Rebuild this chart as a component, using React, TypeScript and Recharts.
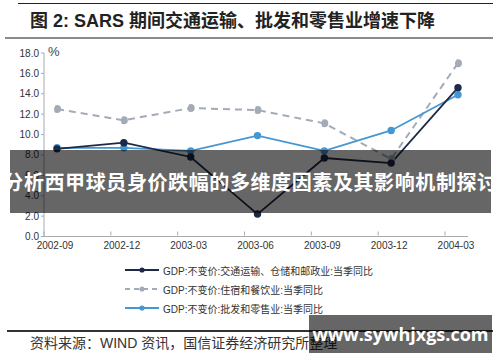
import { CartesianGrid, Line, LineChart, XAxis, YAxis } from "recharts";

const quarters = ["2002-09", "2002-12", "2003-03", "2003-06", "2003-09", "2003-12", "2004-03"];
const transport = [8.6, 9.2, 7.8, 2.2, 7.7, 7.2, 14.6];
const hotels = [12.5, 11.4, 12.6, 12.4, 11.1, 7.6, 17.0];
const retail = [8.7, 8.7, 8.4, 9.9, 8.4, 10.4, 13.9];
const yTicks = [0, 2, 4, 6, 8, 10, 12, 14, 16, 18];

const seriesNames = [
  "GDP:不变价:交通运输、仓储和邮政业:当季同比",
  "GDP:不变价:住宿和餐饮业:当季同比",
  "GDP:不变价:批发和零售业:当季同比",
];

const NAVY = "#1c2a48";
const GREY = "#a3abb7";
const BLUE = "#4696d2";

const data = quarters.map((q, i) => ({
  idx: i,
  q,
  transport: transport[i],
  hotels: hotels[i],
  retail: retail[i],
}));

const XTick = (props: any) => {
  const { x, y, payload } = props;
  return (
    <g>
      <line x1={x - 13} x2={x - 13} y1={y - 9} y2={y - 13} stroke="#aaa" />
      <text x={x - 2} y={y + 4} textAnchor="middle" fontSize={10} fill="#333" fontFamily="Liberation Sans, Arial">
        {quarters[payload.value]}
      </text>
    </g>
  );
};

const LegendRow = ({ color, dashed, label, top }: { color: string; dashed?: boolean; label: string; top: number }) => (
  <div style={{ position: "absolute", left: 124, top: top - 8, height: 16, display: "flex", alignItems: "center" }}>
    <svg width={36} height={16}>
      <line x1={1} x2={35} y1={8} y2={8} stroke={color} strokeWidth={1.8} strokeDasharray={dashed ? "5 4" : undefined} />
      <circle cx={18} cy={8} r={2.6} fill={color} />
    </svg>
    <span style={{ marginLeft: 3, fontSize: 10, color: "#333", fontFamily: "Liberation Sans, 'Noto Sans CJK SC'", whiteSpace: "nowrap" }}>
      {label}
    </span>
  </div>
);

export default function App() {
  return (
    <div style={{ position: "relative", width: 500, height: 362, background: "#fff", overflow: "hidden", fontFamily: "Liberation Sans, 'Noto Sans CJK SC'" }}>
      <style>{`body{margin:0}`}</style>
      <div style={{ position: "absolute", left: 18, top: 3, width: 475, height: 1, background: "#222" }} />
      <div style={{ position: "absolute", left: 30, top: 9, fontSize: 18, fontWeight: 700, color: "#222", whiteSpace: "nowrap", lineHeight: "24px" }}>
        图 2: SARS 期间交通运输、批发和零售业增速下降
      </div>
      <div style={{ position: "absolute", left: 5, top: 37, width: 488, height: 2, background: "#8a8a8a" }} />

      <div style={{ position: "absolute", left: 0, top: 0 }}>
        <LineChart width={500} height={362} data={data} margin={{ top: 53, right: 32, bottom: 100, left: 9 }}>
          <CartesianGrid stroke="none" />
          <XAxis
            dataKey="idx"
            type="number"
            domain={[-0.195, 6.15]}
            ticks={[0, 1, 2, 3, 4, 5, 6]}
            tick={<XTick />}
            tickLine={false}
            axisLine={{ stroke: "#aaa" }}
            height={25.5}
            interval={0}
          />
          <YAxis
            domain={[0, 18]}
            ticks={yTicks}
            width={35}
            tickSize={3}
            tickLine={{ stroke: "#aaa" }}
            axisLine={{ stroke: "#aaa" }}
            tick={{ fontSize: 10, fill: "#333", fontFamily: "Liberation Sans, Arial" }}
            tickFormatter={(v: number) => v.toFixed(1)}
          />
          <Line dataKey="hotels" stroke={GREY} strokeWidth={2} strokeDasharray="7 5" dot={{ r: 3, fill: GREY, stroke: GREY }} isAnimationActive={false} />
          <Line dataKey="retail" stroke={BLUE} strokeWidth={1.8} dot={{ r: 2.8, fill: BLUE, stroke: BLUE }} isAnimationActive={false} />
          <Line dataKey="transport" stroke={NAVY} strokeWidth={1.8} dot={{ r: 2.8, fill: NAVY, stroke: NAVY }} isAnimationActive={false} />
        </LineChart>
      </div>
      <div style={{ position: "absolute", left: 48, top: 44, fontSize: 13, color: "#444" }}>%</div>

      <LegendRow color={NAVY} label={seriesNames[0]} top={270} />
      <LegendRow color={GREY} dashed label={seriesNames[1]} top={289} />
      <LegendRow color={BLUE} label={seriesNames[2]} top={308} />

      <div style={{ position: "absolute", left: 7, top: 330, width: 486, height: 1.5, background: "#333" }} />
      <div style={{ position: "absolute", left: 30, top: 334, fontSize: 14, color: "#333", whiteSpace: "nowrap", lineHeight: "18px" }}>
        资料来源：WIND 资讯，国信证券经济研究所整理
      </div>

      <div style={{ position: "absolute", left: 10, top: 150, width: 481, height: 63, background: "rgba(0,0,0,0.6)", display: "flex", alignItems: "center", justifyContent: "center" }}>
        <span style={{ color: "#fff", fontSize: 20, letterSpacing: 0.6, fontWeight: 700, fontFamily: "'Noto Sans CJK SC'", whiteSpace: "nowrap" }}>
          分析西甲球员身价跌幅的多维度因素及其影响机制探讨
        </span>
      </div>
      <div style={{ position: "absolute", left: 309, top: 315, width: 183, height: 38, background: "rgba(0,0,0,0.6)", display: "flex", alignItems: "center", justifyContent: "center" }}>
        <span style={{ color: "#fff", fontSize: 18, fontWeight: 700, fontFamily: "'Open Sans'", whiteSpace: "nowrap" }}>
          www.sywhjxgs.com
        </span>
      </div>
    </div>
  );
}
